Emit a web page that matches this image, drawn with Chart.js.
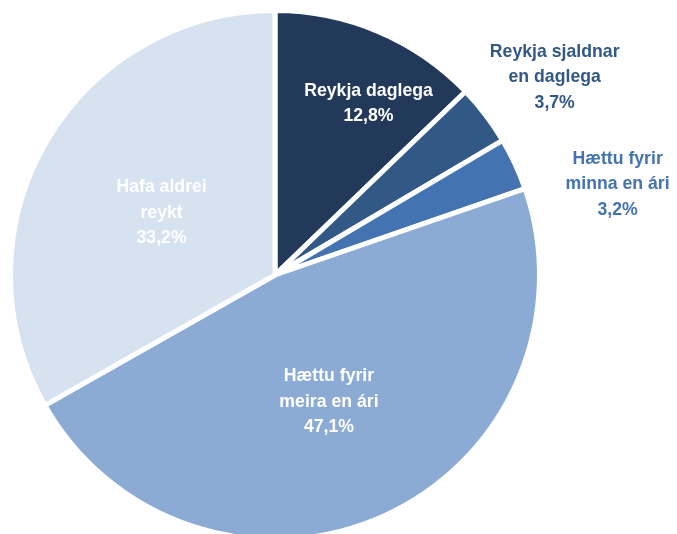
<!DOCTYPE html>
<html>
<head>
<meta charset="utf-8">
<script src="https://cdn.jsdelivr.net/npm/chart.js@4"></script>
<style>
  html, body { margin: 0; padding: 0; background: #fff; overflow: hidden; }
  #wrap { position: absolute; left: 0; top: 0; width: 677px; height: 550px; }
</style>
</head>
<body>
<div id="wrap"><canvas id="grafico"></canvas></div>
<script>
const categorias = [
  ["Reykja daglega"],
  ["Reykja sjaldnar", "en daglega"],
  ["Hættu fyrir", "minna en ári"],
  ["Hættu fyrir", "meira en ári"],
  ["Hafa aldrei", "reykt"],
];
const hlutfall = [12.8, 3.7, 3.2, 47.1, 33.2];
const litir = ["#22395a", "#325886", "#4373b0", "#8babd4", "#d6e2ef"];

// staðsetning merkja: hlutfall af radíus og snúningur í gráðum
const merkiStadur = [
  { r: 0.74, da: 5.5, inni: true },
  { r: 1.295, da: 2, inni: false },
  { r: 1.34, da: 10, inni: false },
  { r: 0.52, da: 1.2, inni: true },
  { r: 0.49, da: -1.3, inni: true },
];

const merkiPlugin = {
  id: "merki",
  afterDatasetsDraw(chart) {
    const ctx = chart.ctx;
    const meta = chart.getDatasetMeta(0);
    const sx = 0.93; // þjappað letur, eins og Arial Narrow
    ctx.save();
    ctx.font = "bold 19px 'Liberation Sans Narrow', 'Arial Narrow', 'Liberation Sans', sans-serif";
    ctx.textAlign = "center";
    ctx.textBaseline = "middle";
    meta.data.forEach((arc, i) => {
      const p = arc.getProps(["x", "y", "startAngle", "endAngle", "outerRadius"], true);
      const s = merkiStadur[i];
      const a = (p.startAngle + p.endAngle) / 2 + (s.da * Math.PI) / 180;
      const cx = p.x + Math.cos(a) * p.outerRadius * s.r;
      const cy = p.y + Math.sin(a) * p.outerRadius * s.r;
      const linur = categorias[i].concat([hlutfall[i].toFixed(1).replace(".", ",") + "%"]);
      const lh = 25.5;
      ctx.fillStyle = s.inni ? "#ffffff" : litir[i];
      linur.forEach((t, j) => {
        ctx.save();
        ctx.translate(cx, cy + (j - (linur.length - 1) / 2) * lh);
        ctx.scale(sx, 1);
        ctx.fillText(t, 0, 0);
        ctx.restore();
      });
    });
    ctx.restore();
  },
};

new Chart(document.getElementById("grafico"), {
  type: "pie",
  data: {
    labels: categorias.map((c) => c.join(" ")),
    datasets: [
      {
        data: hlutfall,
        backgroundColor: litir,
        borderColor: "#ffffff",
        borderWidth: 5,
      },
    ],
  },
  options: {
    responsive: true,
    maintainAspectRatio: false,
    animation: false,
    layout: { padding: { left: 8, top: 8, bottom: 8, right: 135 } },
    plugins: {
      legend: { display: false },
      tooltip: { enabled: false },
    },
  },
  plugins: [merkiPlugin],
});
</script>
</body>
</html>
